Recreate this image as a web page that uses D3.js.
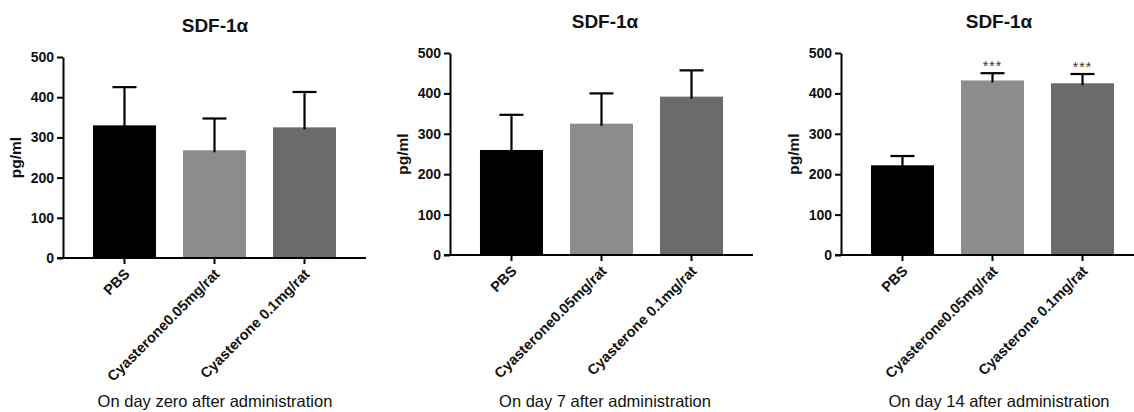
<!DOCTYPE html>
<head>
    <meta charset="utf-8">
    <script src="https://d3js.org/d3.v7.min.js"></script>
    <style>
        body { margin:0; background:#fff; }
        text { font-family: "Liberation Sans", Arial, sans-serif; fill:#111; }
    </style>
</head>
<body>
<script>
    // data
    var categories = ["PBS", "Cyasterone0.05mg/rat", "Cyasterone 0.1mg/rat"];
    var day0Mean = [330, 268, 325];
    var day0Err = [95, 79, 88];
    var day7Mean = [260, 325, 392];
    var day7Err = [87, 75, 65];
    var day14Mean = [222, 432, 425];
    var day14Err = [23, 18, 23];
    var day14Marks = ["", "***", "***"];
    var yTicks = [0, 100, 200, 300, 400, 500];
    var titles = ["SDF-1\u03b1", "SDF-1\u03b1", "SDF-1\u03b1"];
    var captions = ["On day zero after administration", "On day 7 after administration", "On day 14 after administration"];
    var yLabel = "pg/ml";

    var barColors = ["#000000", "#8c8c8c", "#6b6b6b"];

    var svg = d3.select("body").append("svg")
        .attr("width", 1134)
        .attr("height", 412);

    // layout per panel
    var panels = [
        {left: 63, top: 57, bottom: 258, mean: day0Mean, err: day0Err, marks: null, title: titles[0], caption: captions[0], tx: 215},
        {left: 450, top: 53, bottom: 255, mean: day7Mean, err: day7Err, marks: null, title: titles[1], caption: captions[1], tx: 605},
        {left: 841, top: 53, bottom: 255, mean: day14Mean, err: day14Err, marks: day14Marks, title: titles[2], caption: captions[2], tx: 999}
    ];

    panels.forEach(function(p) {
        var g = svg.append("g");
        var x = d3.scaleBand()
            .domain(categories)
            .range([p.left, p.left + 303])
            .paddingInner(0.3)
            .paddingOuter(0.333);
        var y = d3.scaleLinear().domain([0, 500]).range([p.bottom, p.top]);

        var rows = categories.map(function(c, i) {
            return {cat: c, mean: p.mean[i], err: p.err[i], mark: p.marks ? p.marks[i] : "", color: barColors[i]};
        });

        // bars
        g.selectAll("rect.bar").data(rows).enter().append("rect")
            .attr("class", "bar")
            .attr("x", function(d) { return x(d.cat); })
            .attr("width", x.bandwidth())
            .attr("y", function(d) { return y(d.mean); })
            .attr("height", function(d) { return y(0) - y(d.mean); })
            .attr("fill", function(d) { return d.color; });

        // error bars (upper only)
        var cx = function(d) { return x(d.cat) + x.bandwidth() / 2; };
        g.selectAll("line.err").data(rows).enter().append("line")
            .attr("x1", cx).attr("x2", cx)
            .attr("y1", function(d) { return y(d.mean) + 2; })
            .attr("y2", function(d) { return y(d.mean + d.err); })
            .attr("stroke", "#000").attr("stroke-width", 2.2);
        g.selectAll("line.cap").data(rows).enter().append("line")
            .attr("x1", function(d) { return cx(d) - 12; })
            .attr("x2", function(d) { return cx(d) + 12; })
            .attr("y1", function(d) { return y(d.mean + d.err); })
            .attr("y2", function(d) { return y(d.mean + d.err); })
            .attr("stroke", "#000").attr("stroke-width", 2.2);

        // significance marks
        g.selectAll("text.mark").data(rows).enter().append("text")
            .attr("x", cx)
            .attr("y", function(d) { return y(d.mean + d.err) - 2; })
            .attr("text-anchor", "middle")
            .style("font-size", "14px")
            .style("letter-spacing", "1px")
            .style("fill", "#333")
            .text(function(d) { return d.mark; });

        // y axis
        var ya = g.append("g")
            .attr("transform", "translate(" + p.left + ",0)")
            .call(d3.axisLeft(y).tickValues(yTicks).tickSize(6).tickPadding(3).tickSizeOuter(0));
        ya.select(".domain").attr("stroke", "#000").attr("stroke-width", 2);
        ya.selectAll(".tick line").attr("stroke", "#000").attr("stroke-width", 2);
        ya.selectAll(".tick text").style("font-size", "14px").style("font-weight", "bold")
            .style("font-family", "'Liberation Sans', Arial, sans-serif").attr("fill", "#111");

        // x axis
        var xa = g.append("g")
            .attr("transform", "translate(0," + p.bottom + ")")
            .call(d3.axisBottom(x).tickSize(6).tickSizeOuter(0));
        xa.select(".domain").attr("stroke", "#000").attr("stroke-width", 2)
            .attr("d", "M" + (p.left - 6) + ",0H" + (p.left + 303));
        xa.selectAll(".tick line").attr("stroke", "#000").attr("stroke-width", 2);
        xa.selectAll(".tick text")
            .style("font-size", "14.5px").style("font-weight", "bold")
            .style("font-family", "'Liberation Sans', Arial, sans-serif").attr("fill", "#111")
            .attr("text-anchor", "end")
            .attr("x", 0).attr("y", 0).attr("dy", 0)
            .attr("transform", "translate(6,17) rotate(-45)");

        // y label
        g.append("text")
            .attr("transform", "translate(" + (p.left - 42) + "," + ((p.top + p.bottom) / 2) + ") rotate(-90)")
            .attr("text-anchor", "middle")
            .style("font-size", "15.5px").style("font-weight", "bold")
            .text(yLabel);

        // title
        g.append("text")
            .attr("x", p.tx).attr("y", p.top - 25)
            .attr("text-anchor", "middle")
            .style("font-size", "19px").style("font-weight", "bold")
            .text(p.title);

        // caption
        g.append("text")
            .attr("x", p.tx).attr("y", 407)
            .attr("text-anchor", "middle")
            .style("font-size", "16.5px")
            .text(p.caption);
    });
</script>
</body>
